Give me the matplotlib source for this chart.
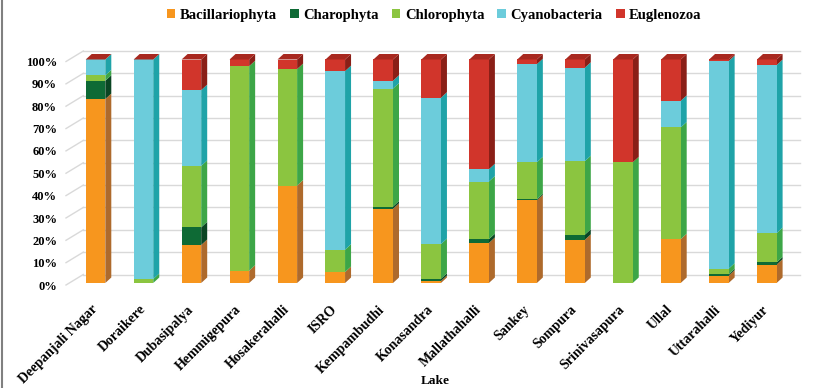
import matplotlib
matplotlib.use('Agg')
import matplotlib.pyplot as plt
from matplotlib.patches import Polygon, Patch
from matplotlib.lines import Line2D
import numpy as np

plt.rcParams['font.family'] = ['Liberation Serif', 'DejaVu Serif']
plt.rcParams['font.weight'] = 'bold'

lakes = ['Deepanjali Nagar', 'Doraikere', 'Dubasipalya', 'Hemmigepura', 'Hosakerahalli',
         'ISRO', 'Kempambudhi', 'Konasandra', 'Mallathahalli', 'Sankey', 'Sompura',
         'Srinivasapura', 'Ullal', 'Uttarahalli', 'Yediyur']
groups = ['Bacillariophyta', 'Charophyta', 'Chlorophyta', 'Cyanobacteria', 'Euglenozoa']

# percent share of each group per lake
bacillariophyta = [82.3, 0.0, 17.0, 5.5, 43.6, 4.9, 33.2, 0.9, 17.9, 37.0, 19.3, 0.0, 19.6, 3.3, 8.2]
charophyta      = [8.2, 0.0, 7.9, 0.0, 0.0, 0.0, 1.0, 1.0, 1.7, 0.5, 2.3, 0.0, 0.0, 0.6, 1.0]
chlorophyta     = [2.4, 1.8, 27.5, 91.5, 52.1, 10.0, 52.8, 15.5, 25.8, 16.5, 32.9, 54.0, 50.0, 2.5, 13.1]
cyanobacteria   = [7.1, 98.2, 33.9, 0.0, 0.0, 79.9, 3.5, 65.5, 5.5, 43.9, 41.8, 0.0, 11.9, 92.9, 75.2]
euglenozoa      = [0.0, 0.0, 13.7, 3.0, 4.3, 5.2, 9.5, 17.1, 49.1, 2.1, 3.7, 46.0, 18.5, 0.7, 2.5]

series = [bacillariophyta, charophyta, chlorophyta, cyanobacteria, euglenozoa]
front_cols = ['#F7961E', '#0E6A35', '#8BC540', '#6CCCDB', '#D1352B']
side_cols = ['#AE6A2C', '#0A4523', '#3DA647', '#1FA3A8', '#8A1F17']
top_col = '#A8281F'

W, H = 813, 388
fig = plt.figure(figsize=(W / 100, H / 100), dpi=100, facecolor='white')

# axes placed in pixels so the pseudo-3D depth offsets stay consistent
L, R, T, B = 60, 805, 40, 295
ax = fig.add_axes([L / W, (H - B) / H, (R - L) / W, (B - T) / H])
x0, xstep = 95.5, 47.95   # px of first bar centre, px per category
y0, ystep = 283.0, 2.235  # px of 0%, px per percent
ax.set_xlim((L - x0) / xstep, (R - x0) / xstep)
ax.set_ylim((y0 - B) / ystep, (y0 - T) / ystep)
for s in ax.spines.values():
    s.set_visible(False)
ax.tick_params(length=0)

x = np.arange(len(lakes))
w = 19.6 / xstep
dx, dy = 6.0 / xstep, 5.5 / ystep
back = 8.5 / ystep

# back wall gridlines + floor diagonals
ticks = np.arange(0, 101, 10)
xl0, xl1 = (66 - x0) / xstep, (83.3 - x0) / xstep
for v in ticks:
    ax.plot([xl1, (800 - x0) / xstep], [v + back, v + back], color='#d9d9d9', lw=1, zorder=0)
    ax.plot([xl0, xl1], [v - 0.9, v + back], color='#d9d9d9', lw=1, zorder=0)
    ax.text((57 - x0) / xstep, v - 1.6, f'{v}%', ha='right', va='center', fontsize=9,
            fontweight='bold')
ax.set_yticks([])

bottom = np.zeros(len(lakes))
for vals, fc, sc in zip(series, front_cols, side_cols):
    vals = np.array(vals)
    ax.bar(x, vals, w, bottom=bottom, color=fc, zorder=3, linewidth=0)
    for xi, b, h in zip(x, bottom, vals):
        if h <= 0:
            continue
        xr = xi + w / 2
        ax.add_patch(Polygon([(xr, b), (xr + dx, b + dy), (xr + dx, b + h + dy), (xr, b + h)],
                             closed=True, facecolor=sc, edgecolor='none', zorder=2))
    bottom = bottom + vals

# top faces
for xi, t in zip(x, bottom):
    xa, xb = xi - w / 2, xi + w / 2
    ax.add_patch(Polygon([(xa, t), (xb, t), (xb + dx, t + dy), (xa + dx, t + dy)],
                         closed=True, facecolor=top_col, edgecolor='none', zorder=4))

ax.set_xticks(x)
ax.set_xticklabels(lakes, rotation=45, ha='right', va='center', rotation_mode='anchor',
                   fontsize=10, fontweight='bold')
ax.tick_params(axis='x', pad=9)

fig.text(435 / W, 1 - 381 / H, 'Lake', ha='center', va='center', fontsize=9.5, fontweight='bold')

handles = [Patch(facecolor=c, edgecolor='none') for c in front_cols]
fig.legend(handles, groups, loc='center', bbox_to_anchor=(434 / W, 1 - 15 / H), ncol=5,
           frameon=False, prop={'weight': 'bold', 'size': 10.5}, handlelength=0.6,
           handleheight=0.6, handletextpad=0.3, columnspacing=0.9)

fig.add_artist(Line2D([2 / W, 2 / W], [0, 1], color='#808080', lw=1.5))

fig.savefig('out.png', dpi=100, facecolor='white')
